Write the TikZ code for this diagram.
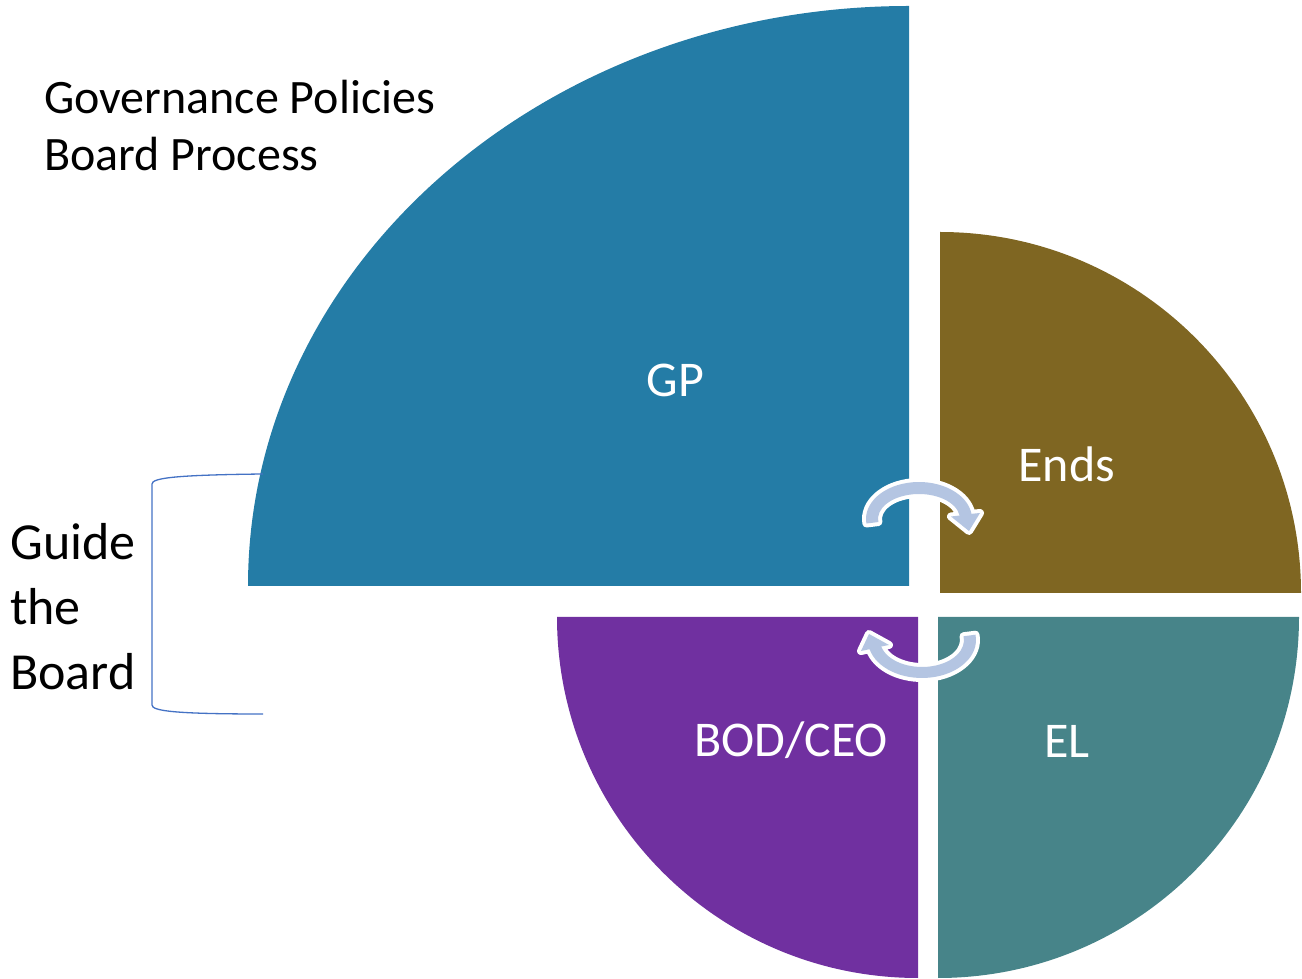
\documentclass[tikz,border=0pt]{standalone}
\usepackage{fontspec}
\setmainfont{Carlito}
\usetikzlibrary{calc}
\definecolor{gpblue}{RGB}{36,124,166}
\definecolor{endsbrown}{RGB}{127,102,34}
\definecolor{bodpurple}{RGB}{112,48,160}
\definecolor{elteal}{RGB}{71,132,137}
\definecolor{arrowfill}{RGB}{180,197,226}
\definecolor{bracketblue}{RGB}{68,114,196}
\begin{document}
\begin{tikzpicture}[x=1pt,y=1pt,
  cyclearrow/.style={fill=arrowfill,preaction={draw=white,line width=8pt,line join=round}},
  seglabel/.style={text=white,font=\fontsize{50}{58}\selectfont,anchor=base,inner sep=0pt},
  sidetext/.style={text=black,align=left,anchor=base west,inner sep=0pt},
  bracketline/.style={draw=bracketblue,line width=1.3pt}]
\useasboundingbox (0,0) rectangle (1302,978);
% quarter sectors
\fill[gpblue] (909,392) -- (248,392) arc[start angle=180,end angle=90,x radius=661pt,y radius=580pt] -- cycle;
\fill[endsbrown] (940,385) -- (1301,385) arc[start angle=0,end angle=90,radius=361pt] -- cycle;
\fill[elteal] (938,361) -- (938,0) arc[start angle=-90,end angle=0,radius=361pt] -- cycle;
\fill[bodpurple] (918,361) -- (557,361) arc[start angle=180,end angle=270,radius=361pt] -- cycle;
% cycle arrows
\coordinate (c1) at (919,459);
\coordinate (c2) at (922,338);
\path[cyclearrow] ($(c1)+(187:53pt and 37pt)$) arc[start angle=187,end angle=8,x radius=53pt,y radius=37pt]
  -- (980,465) -- (969,447) -- (951,461.5)
  -- ($(c1)+(8:41pt and 25pt)$) arc[start angle=8,end angle=187,x radius=41pt,y radius=25pt] -- cycle;
\path[cyclearrow] ($(c2)+(8:54pt and 38pt)$) arc[start angle=8,end angle=-166,x radius=54pt,y radius=38pt]
  -- (861,327) -- (869,344) -- (889,333)
  -- ($(c2)+(-166:42pt and 27pt)$) arc[start angle=-166,end angle=8,x radius=42pt,y radius=27pt] -- cycle;
% labels
\node[seglabel] (gp) at (675.5,581) {GP};
\node[seglabel] (ends) at (1066.7,496.3) {Ends};
\node[seglabel] (bod) at (791,221) {BOD/CEO};
\node[seglabel] (el) at (1067,220) {EL};
% side texts
\node[sidetext,font=\fontsize{48}{57}\selectfont] (gov) at (44,807) {Governance Policies\\Board Process};
\node[sidetext,font=\fontsize{52}{65}\selectfont] (guide) at (10,288) {Guide\\the\\Board};
% bracket
\draw[bracketline] (263,504) .. controls (175,503) and (152,500) .. (152,494) -- (152,273) .. controls (152,267) and (175,264) .. (263,264);
\end{tikzpicture}
\end{document}
